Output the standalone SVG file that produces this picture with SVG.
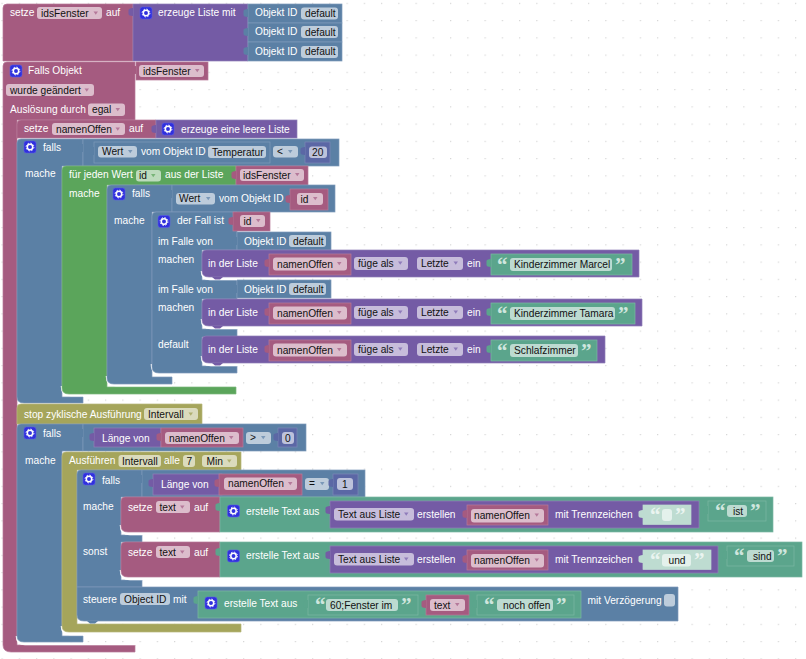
<svg xmlns="http://www.w3.org/2000/svg" width="806" height="659" viewBox="0 0 806 659">
<style>
text{font-family:"Liberation Sans",Arial,sans-serif;font-size:10.2px;fill:#fff}
text.d{fill:#111}
text.q{font-family:"Liberation Serif",serif;font-size:21px;font-weight:bold;fill:#cfe6de}
text.qs{fill:#eaf4f0}
.P{fill:#A55B80;stroke:#b87a99;stroke-width:.7}
.L{fill:#745BA5;stroke:#9080b8;stroke-width:.7}
.B{fill:#5B80A5;stroke:#7e9aba;stroke-width:.7}
.G{fill:#5BA55B;stroke:#7cb87c;stroke-width:.7}
.T{fill:#5BA58C;stroke:#7cb8a3;stroke-width:.7}
.O{fill:#A5A55B;stroke:#b8b87c;stroke-width:.7}
.N{fill:#5B67A5;stroke:#7c86b8;stroke-width:.7}
.S{fill:#bedcd1;stroke:#bedcd1;stroke-width:.7}
.tP{fill:#A55B80}.tL{fill:#745BA5}.tB{fill:#5B80A5}.tT{fill:#5BA58C}.tN{fill:#5B67A5}.tS{fill:#bedcd1}
.f{rx:3px;ry:3px}
.fP{fill:#dcbdcc}.fL{fill:#c7bddb}.fB{fill:#bdccdb}.fG{fill:#bddbbd}.fT{fill:#bddbd1}.fO{fill:#dbdbbd}.fN{fill:#bdc2db}.fW{fill:#e4f1ec}
.aP{fill:#b5799a}.aL{fill:#8f7cba}.aB{fill:#7a98b8}.aG{fill:#78b578}.aO{fill:#b0b070}
.wh{fill:none;stroke:#fff;stroke-width:2.6}
</style>
<defs>
<pattern id="grid" x="1.5" y="2.8" width="17.25" height="17.25" patternUnits="userSpaceOnUse"><circle cx="0.6" cy="0.6" r="0.7" fill="#d4d4d4"/></pattern>
<path id="tab" d="M0 0c-3 0-4.500 1-4.500 2v4c0 1 1.500 2 4.500 2z"/>
<path id="arr" d="M0 0h4.500l-2.250 3.200z"/>
<g id="gear"><rect width="12" height="12" rx="2.500" fill="#3030dd" stroke="#5b5be8" stroke-width=".6"/><circle cx="6" cy="6" r="2.700" fill="none" stroke="#fff" stroke-width="1.500"/><circle cx="6" cy="6" r="3.900" fill="none" stroke="#fff" stroke-width="1" stroke-dasharray="1.500 1.560"/></g>
</defs>
<rect width="806" height="659" fill="#fff"/>
<rect width="806" height="659" fill="url(#grid)"/>

<g id="set-idsFenster">
<path class="P" d="M3 8q0-4 4-4H133V61H3Z"/>
<text x="10" y="16">setze</text>
<rect class="f fP" x="37" y="7" width="65" height="12"/><text class="d" x="41" y="16.500">idsFenster</text><use href="#arr" class="aP" x="93.500" y="11.500"/>
<text x="106" y="16">auf</text>
</g>
<g id="list-create">
<path class="L" d="M133 4H248V61H133Z"/><use href="#tab" class="tL" x="133" y="8"/>
<use href="#gear" x="140" y="7"/>
<text x="158" y="16">erzeuge Liste mit</text>
</g>
<g id="obj1"><rect class="B" x="248" y="4" width="94" height="19"/><use href="#tab" class="tB" x="248" y="9"/><text x="255" y="16">Objekt ID</text><rect class="f fB" x="301" y="7.500" width="37" height="12"/><text class="d" x="305" y="16.500">default</text></g>
<g id="obj2"><rect class="B" x="248" y="23" width="94" height="19"/><use href="#tab" class="tB" x="248" y="28"/><text x="255" y="35">Objekt ID</text><rect class="f fB" x="301" y="26" width="37" height="12"/><text class="d" x="305" y="35.500">default</text></g>
<g id="obj3"><rect class="B" x="248" y="42" width="94" height="19"/><use href="#tab" class="tB" x="248" y="47"/><text x="255" y="55">Objekt ID</text><rect class="f fB" x="301" y="46" width="37" height="12"/><text class="d" x="305" y="55">default</text></g>

<g id="falls-objekt">
<path class="P" d="M3 66q0-4 4-4H135V120H17V645H135V652H11q-8 0-8-7Z"/>
<use href="#gear" x="10" y="65"/>
<text x="28" y="74">Falls Objekt</text>
<rect class="f fP" x="6" y="84" width="88" height="12"/><text class="d" x="10" y="93.500">wurde geändert</text><use href="#arr" class="aP" x="84.500" y="88.500"/>
<text x="10" y="113">Auslösung durch</text>
<rect class="f fP" x="88" y="103.500" width="37" height="12.500"/><text class="d" x="92" y="113">egal</text><use href="#arr" class="aP" x="115.500" y="108"/>
</g>
<g id="var-idsFenster2"><rect class="P" x="136" y="62" width="72" height="18"/><use href="#tab" class="tP" x="136" y="66"/><rect class="f fP" x="139" y="65" width="65" height="12"/><text class="d" x="143" y="74.500">idsFenster</text><use href="#arr" class="aP" x="195" y="69"/></g>

<g id="set-namenOffen">
<path class="P" d="M17 124q0-4 4-4H156V138H17Z"/>
<text x="24" y="132">setze</text>
<rect class="f fP" x="52" y="123" width="73" height="12"/><text class="d" x="56" y="132.500">namenOffen</text><use href="#arr" class="aP" x="115.500" y="127.500"/>
<text x="129" y="132">auf</text>
</g>
<g id="list-empty">
<rect class="L" x="156" y="120" width="141" height="18"/><use href="#tab" class="tL" x="156" y="125"/>
<use href="#gear" x="162" y="123"/>
<text x="181" y="132.500">erzeuge eine leere Liste</text>
</g>

<g id="falls1">
<path class="B" d="M17 143q0-4 4-4H83V166H62V397H83V403H24q-7 0-7-6Z"/>
<use href="#gear" x="24" y="141"/>
<text x="43" y="151">falls</text>
<text x="25" y="177">mache</text>
</g>
<g id="compare1">
<rect class="B" x="83" y="139" width="256" height="27"/><use href="#tab" class="tB" x="83" y="144"/>
<rect class="B" x="94" y="142" width="176" height="21"/><use href="#tab" class="tB" x="94" y="147"/>
<rect class="f fB" x="98" y="146" width="39" height="11.500"/><text class="d" x="102" y="155">Wert</text><use href="#arr" class="aB" x="128" y="150"/>
<text x="141" y="155">vom Objekt ID</text>
<rect class="f fB" x="208" y="146" width="58" height="12"/><text class="d" x="212" y="155.500">Temperatur</text>
<rect class="f fB" x="273" y="146" width="25" height="11.500"/><text class="d" x="277" y="154.500">&lt;</text><use href="#arr" class="aB" x="288" y="150"/>
<rect class="N" x="305" y="142" width="25" height="21"/><use href="#tab" class="tN" x="305" y="147"/>
<rect class="f fN" x="309" y="146.500" width="18" height="11.500"/><text class="d" x="312" y="155.500">20</text>
</g>

<path class="wh" d="M62 386q0 9 9 9H83"/>
<g id="foreach">
<path class="G" d="M62 170q0-4 4-4H236V185H107V387H236V394H69q-7 0-7-6Z"/>
<text x="69" y="178">für jeden Wert</text>
<rect class="f fG" x="136" y="170" width="25" height="11.500"/><text class="d" x="139" y="179">id</text><use href="#arr" class="aG" x="151" y="174"/>
<text x="165" y="178">aus der Liste</text>
<text x="69" y="197">mache</text>
</g>
<g id="var-idsFenster3"><rect class="P" x="236" y="166" width="72" height="19"/><use href="#tab" class="tP" x="236" y="171"/><rect class="f fP" x="240" y="169" width="64" height="12"/><text class="d" x="243" y="178.500">idsFenster</text><use href="#arr" class="aP" x="295" y="173"/></g>

<path class="wh" d="M107 376q0 9 9 9H172"/>
<g id="falls2">
<path class="B" d="M107 189q0-4 4-4H172V212H152V377H172V384H114q-7 0-7-6Z"/>
<use href="#gear" x="113" y="188"/>
<text x="132" y="197">falls</text>
<text x="114" y="224">mache</text>
</g>
<g id="wert2">
<rect class="B" x="172" y="185" width="163" height="27"/><use href="#tab" class="tB" x="172" y="190"/>
<rect class="f fB" x="176" y="193" width="39" height="11.500"/><text class="d" x="179" y="202">Wert</text><use href="#arr" class="aB" x="206" y="197"/>
<text x="219" y="201.500">vom Objekt ID</text>
<rect class="P" x="290" y="189" width="38" height="21"/><use href="#tab" class="tP" x="290" y="195"/>
<rect class="f fP" x="297" y="193" width="26" height="12"/><text class="d" x="300.500" y="202.500">id</text><use href="#arr" class="aP" x="313" y="197"/>
</g>

<path class="wh" d="M152 364q0 10 10 10H237"/>
<g id="switch">
<path class="B" d="M152 216q0-4 4-4H237V250H202V280H237V299H202V329H237V337H202V366H237V373H159q-7 0-7-6Z"/>
<use href="#gear" x="158" y="215.500"/>
<text x="177" y="224">der Fall ist</text>
<text x="158" y="244.500">im Falle von</text>
<text x="158" y="262.500">machen</text>
<text x="158" y="292.500">im Falle von</text>
<text x="158" y="311">machen</text>
<text x="158" y="348">default</text>
</g>
<g id="var-id3"><rect class="P" x="233" y="212" width="37" height="19"/><use href="#tab" class="tP" x="233" y="217"/><rect class="f fP" x="240" y="215" width="25" height="12"/><text class="d" x="243.500" y="224.500">id</text><use href="#arr" class="aP" x="256" y="219"/></g>
<g id="obj4"><rect class="B" x="237" y="232" width="94" height="18"/><use href="#tab" class="tB" x="237" y="237"/><text x="244" y="244.500">Objekt ID</text><rect class="f fB" x="289" y="235" width="37" height="12"/><text class="d" x="293" y="244.500">default</text></g>
<g id="obj5"><rect class="B" x="237" y="280" width="94" height="18"/><use href="#tab" class="tB" x="237" y="285"/><text x="244" y="292.500">Objekt ID</text><rect class="f fB" x="289" y="283" width="37" height="12"/><text class="d" x="293" y="292.500">default</text></g>

<path class="wh" d="M202 271q0 8 8 8H237"/>
<g id="append1">
<path class="L" d="M202 254q0-4 4-4H639V277H209q-7 0-7-6Z"/><path class="tL" d="M212 277l3 2.500h5l3-2.500z"/>
<text x="208" y="266.500">in der Liste</text>
<rect class="P" x="269" y="254" width="82" height="21"/><use href="#tab" class="tP" x="269" y="259"/>
<rect class="f fP" x="273" y="257.500" width="74" height="13"/><text class="d" x="277" y="267.500">namenOffen</text><use href="#arr" class="aP" x="337" y="262"/>
<rect class="f fL" x="354" y="257" width="54" height="13"/><text class="d" x="358" y="266.500">füge als</text><use href="#arr" class="aL" x="398" y="261.500"/>
<rect class="f fL" x="417" y="257" width="46" height="13"/><text class="d" x="421" y="266.500">Letzte</text><use href="#arr" class="aL" x="453.500" y="261.500"/>
<text x="467" y="266.500">ein</text>
</g>
<g id="text1"><rect class="T" x="491" y="254" width="141" height="21"/><use href="#tab" class="tT" x="491" y="259"/><text class="q" x="497" y="272">“</text><rect class="f fT" x="510" y="258" width="102" height="13"/><text class="d" x="514" y="268">Kinderzimmer Marcel</text><text class="q" x="615" y="272">”</text></g>

<path class="wh" d="M202 319q0 9 9 9H237"/>
<g id="append2">
<path class="L" d="M202 303q0-4 4-4H642V326H209q-7 0-7-6Z"/><path class="tL" d="M212 326l3 2.500h5l3-2.500z"/>
<text x="208" y="315.500">in der Liste</text>
<rect class="P" x="269" y="303" width="82" height="21"/><use href="#tab" class="tP" x="269" y="308"/>
<rect class="f fP" x="273" y="306.500" width="74" height="13"/><text class="d" x="277" y="316.500">namenOffen</text><use href="#arr" class="aP" x="337" y="311"/>
<rect class="f fL" x="354" y="306" width="54" height="13"/><text class="d" x="358" y="315.500">füge als</text><use href="#arr" class="aL" x="398" y="310.500"/>
<rect class="f fL" x="417" y="306" width="46" height="13"/><text class="d" x="421" y="315.500">Letzte</text><use href="#arr" class="aL" x="453.500" y="310.500"/>
<text x="467" y="315.500">ein</text>
</g>
<g id="text2"><rect class="T" x="491" y="303" width="144" height="21"/><use href="#tab" class="tT" x="491" y="308"/><text class="q" x="497" y="321">“</text><rect class="f fT" x="510" y="307" width="105" height="13"/><text class="d" x="514" y="317">Kinderzimmer Tamara</text><text class="q" x="618" y="321">”</text></g>

<path class="wh" d="M202 356q0 9 9 9H237"/>
<g id="append3">
<path class="L" d="M202 340q0-4 4-4H605V363H209q-7 0-7-6Z"/><path class="tL" d="M212 363l3 2.500h5l3-2.500z"/>
<text x="208" y="352.500">in der Liste</text>
<rect class="P" x="269" y="340" width="82" height="21"/><use href="#tab" class="tP" x="269" y="345"/>
<rect class="f fP" x="273" y="343.500" width="74" height="13"/><text class="d" x="277" y="353.500">namenOffen</text><use href="#arr" class="aP" x="337" y="348"/>
<rect class="f fL" x="354" y="343" width="54" height="13"/><text class="d" x="358" y="352.500">füge als</text><use href="#arr" class="aL" x="398" y="347.500"/>
<rect class="f fL" x="417" y="343" width="46" height="13"/><text class="d" x="421" y="352.500">Letzte</text><use href="#arr" class="aL" x="453.500" y="347.500"/>
<text x="467" y="352.500">ein</text>
</g>
<g id="text3"><rect class="T" x="491" y="340" width="106" height="21"/><use href="#tab" class="tT" x="491" y="345"/><text class="q" x="497" y="358">“</text><rect class="f fT" x="510" y="344" width="68" height="13"/><text class="d" x="514" y="354">Schlafzimmer</text><text class="q" x="581" y="358">”</text></g>

<g id="stop">
<path class="O" d="M17 408q0-4 4-4H202V424H17Z"/>
<text x="24" y="417.500">stop zyklische Ausführung</text>
<rect class="f fO" x="144" y="408" width="54" height="12"/><text class="d" x="148" y="417.500">Intervall</text><use href="#arr" class="aO" x="188.500" y="412.500"/>
</g>

<path class="wh" d="M17 636q0 8 8 8H135"/>
<g id="falls3">
<path class="B" d="M17 428q0-4 4-4H83V451H62V636H83V642H24q-7 0-7-6Z"/>
<use href="#gear" x="24" y="427"/>
<text x="43" y="437">falls</text>
<text x="25" y="463.500">mache</text>
</g>
<g id="compare3">
<rect class="B" x="83" y="424" width="223" height="27"/><use href="#tab" class="tB" x="83" y="429"/>
<rect class="L" x="94" y="428" width="67" height="19"/><use href="#tab" class="tL" x="94" y="433"/>
<text x="102" y="441.500">Länge von</text>
<rect class="P" x="161" y="428" width="82" height="19"/><use href="#tab" class="tP" x="161" y="433"/>
<rect class="f fP" x="165" y="432" width="74" height="12"/><text class="d" x="169" y="441.500">namenOffen</text><use href="#arr" class="aP" x="229" y="436"/>
<rect class="f fB" x="246" y="432" width="25" height="12"/><text class="d" x="250" y="441">&gt;</text><use href="#arr" class="aB" x="261" y="436"/>
<rect class="N" x="278" y="428" width="19" height="19"/><use href="#tab" class="tN" x="278" y="433"/>
<rect class="f fN" x="282" y="432" width="12" height="12"/><text class="d" x="285" y="441.500">0</text>
</g>

<path class="wh" d="M62 626q0 8 8 8H83"/>
<g id="interval">
<path class="O" d="M62 456q0-4 4-4H241V470H77V624H241V632H69q-7 0-7-6Z"/>
<text x="69" y="464">Ausführen</text>
<rect class="f fO" x="118.500" y="455" width="42.500" height="12"/><text class="d" x="122" y="464.500">Intervall</text>
<text x="164" y="464">alle</text>
<rect class="f fO" x="183" y="455" width="12" height="12"/><text class="d" x="186.500" y="464.500">7</text>
<rect class="f fO" x="202" y="455" width="35" height="12"/><text class="d" x="206.500" y="464.500">Min</text><use href="#arr" class="aO" x="227" y="459.500"/>
</g>

<g id="falls4">
<path class="B" d="M77 474q0-4 4-4H142V497H121V535H142V542H121V580H142V587H77Z"/>
<use href="#gear" x="83" y="473"/>
<text x="102" y="483.500">falls</text>
<text x="83" y="509.500">mache</text>
<text x="83" y="554.500">sonst</text>
</g>
<g id="compare4">
<rect class="B" x="142" y="470" width="223" height="27"/><use href="#tab" class="tB" x="142" y="475"/>
<rect class="L" x="153" y="474" width="69" height="21"/><use href="#tab" class="tL" x="153" y="479"/>
<text x="161" y="488">Länge von</text>
<rect class="P" x="219" y="474" width="83" height="21"/><use href="#tab" class="tP" x="219" y="479"/>
<rect class="f fP" x="224" y="477.500" width="73" height="12.500"/><text class="d" x="228" y="487">namenOffen</text><use href="#arr" class="aP" x="288" y="482"/>
<rect class="f fB" x="305" y="478" width="24" height="12"/><text class="d" x="309" y="487">=</text><use href="#arr" class="aB" x="320" y="482"/>
<rect class="N" x="333" y="474" width="25" height="21"/><use href="#tab" class="tN" x="333" y="479"/>
<rect class="f fN" x="337" y="478" width="16" height="12"/><text class="d" x="342" y="487.500">1</text>
</g>

<path class="wh" d="M121 525q0 9 9 9H142"/>
<g id="set-text1">
<path class="P" d="M121 501q0-4 4-4H220V532H128q-7 0-7-6Z"/>
<text x="128" y="510.500">setze</text>
<rect class="f fP" x="156" y="501" width="34" height="12"/><text class="d" x="159.500" y="510.500">text</text><use href="#arr" class="aP" x="180" y="505.500"/>
<text x="194" y="510.500">auf</text>
</g>
<g id="textjoin1">
<rect class="T" x="220" y="497" width="553" height="35"/><use href="#tab" class="tT" x="220" y="503"/>
<use href="#gear" x="227.500" y="505"/>
<text x="246" y="514.500">erstelle Text aus</text>
</g>
<g id="join1">
<rect class="L" x="330" y="501" width="369" height="27"/><use href="#tab" class="tL" x="330" y="506"/>
<rect class="f fL" x="334" y="508" width="80" height="12.500"/><text class="d" x="338" y="517.500">Text aus Liste</text><use href="#arr" class="aL" x="404" y="512.500"/>
<text x="417" y="517.500">erstellen</text>
<rect class="P" x="467" y="505" width="81" height="20"/><use href="#tab" class="tP" x="467" y="510"/>
<rect class="f fP" x="471" y="509" width="73" height="13.500"/><text class="d" x="474" y="518.500">namenOffen</text><use href="#arr" class="aP" x="534.500" y="513.500"/>
<text x="555" y="517.500">mit Trennzeichen</text>
</g>
<g id="sep1"><rect class="S" x="643" y="505" width="48" height="19.500"/><use href="#tab" class="tS" x="643" y="510"/><text class="q qs" x="650" y="522">“</text><rect class="f fW" x="662" y="509" width="10" height="12"/><text class="q qs" x="675" y="522">”</text></g>
<g id="text-ist"><rect class="T" x="708" y="501" width="58" height="20"/><use href="#tab" class="tT" x="708" y="506"/><text class="q" x="715" y="518">“</text><rect class="f fT" x="727" y="505" width="20" height="12"/><text class="d" x="733" y="514.500">ist</text><text class="q" x="750" y="518">”</text></g>

<path class="wh" d="M121 570q0 9 9 9H142"/>
<g id="set-text2">
<path class="P" d="M121 546q0-4 4-4H220V577H128q-7 0-7-6Z"/>
<text x="128" y="555.500">setze</text>
<rect class="f fP" x="156" y="546" width="34" height="12"/><text class="d" x="159.500" y="555.500">text</text><use href="#arr" class="aP" x="180" y="550.500"/>
<text x="194" y="555.500">auf</text>
</g>
<g id="textjoin2">
<rect class="T" x="220" y="542" width="582" height="35"/><use href="#tab" class="tT" x="220" y="548"/>
<use href="#gear" x="227.500" y="550"/>
<text x="246" y="559">erstelle Text aus</text>
</g>
<g id="join2">
<rect class="L" x="330" y="546" width="388" height="27"/><use href="#tab" class="tL" x="330" y="551"/>
<rect class="f fL" x="334" y="553" width="80" height="12.500"/><text class="d" x="338" y="562.500">Text aus Liste</text><use href="#arr" class="aL" x="404" y="557.500"/>
<text x="417" y="562.500">erstellen</text>
<rect class="P" x="467" y="550" width="81" height="20"/><use href="#tab" class="tP" x="467" y="555"/>
<rect class="f fP" x="471" y="554" width="73" height="13.500"/><text class="d" x="474" y="563.500">namenOffen</text><use href="#arr" class="aP" x="534.500" y="558.500"/>
<text x="555" y="562.500">mit Trennzeichen</text>
</g>
<g id="sep2"><rect class="S" x="643" y="550" width="68" height="19.500"/><use href="#tab" class="tS" x="643" y="555"/><text class="q qs" x="650" y="567">“</text><rect class="f fW" x="662" y="554" width="29" height="12.500"/><text class="d" x="668.500" y="563.500">und</text><text class="q qs" x="694" y="567">”</text></g>
<g id="text-sind"><rect class="T" x="727" y="546" width="67" height="20"/><use href="#tab" class="tT" x="727" y="551"/><text class="q" x="734" y="563">“</text><rect class="f fT" x="747" y="550" width="27" height="12"/><text class="d" x="753" y="559.500">sind</text><text class="q" x="777" y="563">”</text></g>

<g id="control">
<path class="B" d="M77 587H678V621H84q-7 0-7-6Z"/><path class="tB" d="M87 621l3 2.500h5l3-2.500z"/>
<text x="83" y="603">steuere</text>
<rect class="f fB" x="120" y="593" width="50" height="12"/><text class="d" x="124" y="602.500">Object ID</text>
<text x="173" y="603">mit</text>
<text x="587.500" y="603.500">mit Verzögerung</text>
<rect class="f fB" x="664" y="594" width="11" height="12.500"/>
</g>
<g id="textjoin3">
<rect class="T" x="198" y="591" width="383" height="27"/><use href="#tab" class="tT" x="198" y="596"/>
<use href="#gear" x="205" y="597"/>
<text x="224" y="606.500">erstelle Text aus</text>
</g>
<g id="text-fenster"><rect class="T" x="308" y="595" width="110" height="20"/><use href="#tab" class="tT" x="308" y="600"/><text class="q" x="315" y="612">“</text><rect class="f fT" x="326" y="599" width="72" height="12"/><text class="d" x="330" y="608.500">60;Fenster im</text><text class="q" x="401" y="612">”</text></g>
<g id="var-text"><rect class="P" x="426" y="595" width="43" height="20"/><use href="#tab" class="tP" x="426" y="600"/><rect class="f fP" x="430" y="599" width="35" height="12"/><text class="d" x="434" y="608.500">text</text><use href="#arr" class="aP" x="455" y="603"/></g>
<g id="text-offen"><rect class="T" x="477" y="595" width="97" height="20"/><use href="#tab" class="tT" x="477" y="600"/><text class="q" x="484" y="612">“</text><rect class="f fT" x="497" y="599" width="56" height="12"/><text class="d" x="503" y="608.500">noch offen</text><text class="q" x="556" y="612">”</text></g>
</svg>
